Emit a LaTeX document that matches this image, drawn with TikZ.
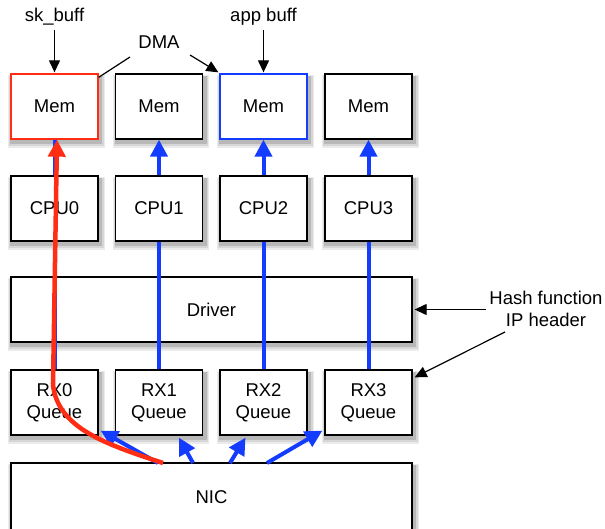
\documentclass[tikz,border=0pt]{standalone}
\usepackage{fontspec}
\setmainfont{Liberation Sans}
\usetikzlibrary{arrows.meta,calc,backgrounds}
\definecolor{myblue}{RGB}{20,60,255}
\definecolor{myred}{RGB}{255,45,20}
\tikzset{
  box/.style={draw=black, line width=1.3pt, fill=white, minimum width=87pt, minimum height=65pt,
    align=center, font=\fontsize{18.5}{22}\selectfont},
  widebox/.style={box, minimum width=401pt},
  lbl/.style={font=\fontsize{18.5}{22}\selectfont, inner sep=0pt, align=center},
  bl/.style={draw=myblue, line width=4pt},
  bla/.style={bl, -{Triangle[length=17pt,width=17pt]}},
  blk/.style={draw=black, line width=1.2pt, -{Triangle[length=12pt,width=11pt]}}
}
\begin{document}
\begin{tikzpicture}[x=1pt,y=-1pt]
\clip (0,0) rectangle (605,529);
% driver and NIC
\node[widebox] (driver) at (211.5,309.5) {Driver};
\node[widebox, minimum height=68pt] (nic) at (211.5,497) {NIC};
% CPUs, RX
\foreach \i/\x in {0/54.5,1/159,2/263.5,3/368.5}{
  \node[box] (cpu\i) at (\x,208.5) {CPU\i};
  \node[box] (rx\i) at (\x,402.5) {RX\i\\Queue};
}
\node[box, draw=myred] (mem0) at (54.5,106.5) {Mem};
\node[box] (mem1) at (159,106.5) {Mem};
\node[box, draw=myblue] (mem2) at (263.5,106.5) {Mem};
\node[box] (mem3) at (368.5,106.5) {Mem};
% soft shadows
\begin{pgfonlayer}{background}
\fill[white] (0,0) rectangle (605,529);
\foreach \n in {driver,nic,cpu0,cpu1,cpu2,cpu3,rx0,rx1,rx2,rx3,mem0,mem1,mem2,mem3}{
  \fill[black!8] ([xshift=-2pt,yshift=-8pt]\n.south west) rectangle ([xshift=6pt,yshift=-2pt]\n.north east);
  \fill[black!16] ([xshift=-1pt,yshift=-6pt]\n.south west) rectangle ([xshift=5pt,yshift=-3pt]\n.north east);
  \fill[black!28] ([xshift=0pt,yshift=-4.5pt]\n.south west) rectangle ([xshift=3.5pt,yshift=-3pt]\n.north east);
}
\end{pgfonlayer}
% vertical blue lines
\foreach \i in {0,1,2,3}{
  \draw[bl] (rx\i.north) -- (cpu\i.south);
}
\draw[bl] (cpu0.north) -- (mem0.south);
\foreach \i in {1,2,3}{
  \draw[bla] (cpu\i.north) -- (mem\i.south);
}
% NIC to RX arrows
\coordinate (n0) at (158,463);
\coordinate (n1) at (193,463);
\coordinate (n2) at (230,463);
\coordinate (n3) at (267,463);
\draw[bla] (n0) -- ([xshift=2pt,yshift=5pt]rx0.south east);
\draw[bla] (n1) -- ([xshift=20pt,yshift=-2pt]rx1.south);
\draw[bla] (n2) -- ([xshift=-18pt,yshift=-2pt]rx2.south);
\draw[bla] (n3) -- ([xshift=-2pt,yshift=5pt]rx3.south west);
% red path
\coordinate (r0) at (163,463);
\draw[myred, line width=4.5pt, -{Triangle[length=17pt,width=17pt]}]
  (r0) .. controls (105,444) and (58,428) .. (53,385) -- ([xshift=2.5pt]mem0.south);
% labels
\node[lbl] (sk) at (54.5,17) {sk\_buff};
\node[lbl] (app) at (263.5,17) {app buff};
\node[lbl] (dma) at (159,42) {DMA};
\draw[blk] ([yshift=-4pt]sk.south) -- ([yshift=1pt]mem0.north);
\draw[blk] ([yshift=-4pt]app.south) -- ([yshift=1pt]mem2.north);
\coordinate (d0) at (130,57);
\coordinate (d1) at (190,55);
\draw[line width=1.2pt] (d0) -- ([yshift=-4pt]mem0.north east);
\draw[blk] (d1) -- ([xshift=-1pt,yshift=1pt]mem2.north west);
\node[lbl] (hash1) at (546,298) {Hash function};
\node[lbl] (hash2) at (546,320) {IP header};
\coordinate (h1) at (486,309.5);
\coordinate (h2) at (505,332);
\draw[blk] (h1) -- ([xshift=2pt]driver.east);
\draw[blk] (h2) -- ([xshift=2pt,yshift=-8pt]rx3.north east);
\end{tikzpicture}
\end{document}
